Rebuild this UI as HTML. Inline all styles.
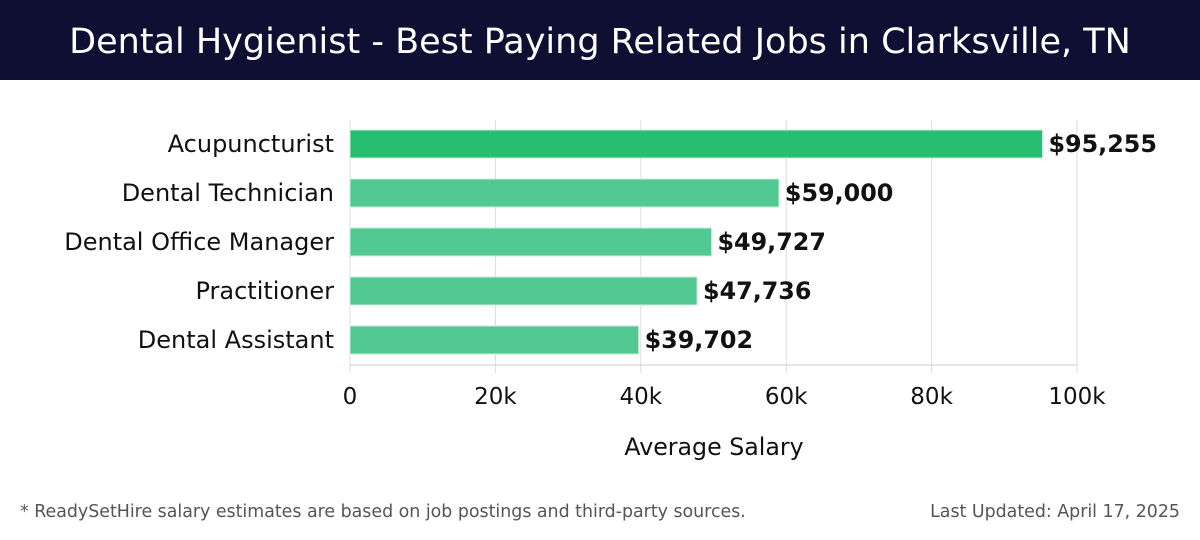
<!DOCTYPE html>
<html><head><meta charset="utf-8"><style>
body{margin:0;width:1200px;height:540px;background:#fff;font-family:"Liberation Sans","DejaVu Sans",sans-serif;overflow:hidden;position:relative}
#hdr{position:absolute;left:0;top:0;width:1200px;height:80px;background:#0f0f33;color:#fff;font-size:35px;text-align:center;line-height:84px;font-family:"DejaVu Sans","Liberation Sans",sans-serif;font-weight:normal}
.foot{position:absolute;top:502px;font-size:17.4px;color:#555;font-family:"DejaVu Sans","Liberation Sans",sans-serif}
</style></head><body>
<div id="hdr">Dental Hygienist - Best Paying Related Jobs in Clarksville, TN</div>
<svg id="chart" width="1200" height="540" style="position:absolute;left:0;top:0"></svg>
<div class="foot" style="left:20px">* ReadySetHire salary estimates are based on job postings and third-party sources.</div>
<div class="foot" style="right:20px">Last Updated: April 17, 2025</div>
<script>
const categories=["Acupuncturist","Dental Technician","Dental Office Manager","Practitioner","Dental Assistant"];
const values=[95255,59000,49727,47736,39702];
const valueLabels=["$95,255","$59,000","$49,727","$47,736","$39,702"];
const ticks=[0,20000,40000,60000,80000,100000];
const tickLabels=["0","20k","40k","60k","80k","100k"];
const NS="http://www.w3.org/2000/svg";
const svg=document.getElementById("chart");
const x0=350,x1=1077,xmax=100000;
const xs=v=>x0+(v/xmax)*(x1-x0);
const ys=i=>144+i*49;
function mk(t,a){const e=document.createElementNS(NS,t);for(const k in a)e.setAttribute(k,a[k]);svg.appendChild(e);return e;}
const ff='"DejaVu Sans","Liberation Sans",sans-serif';
ticks.forEach((t,i)=>{
 const g=mk("line",{x1:xs(t),x2:xs(t),y1:120,y2:373,stroke:"#ddd","stroke-width":1});
 
 
 const l=mk("text",{x:xs(t),y:404,"text-anchor":"middle","font-size":23,fill:"#111","font-family":ff});
 l.textContent=tickLabels[i];
 
 
});
const ax=mk("line",{x1:x0,x2:x1,y1:365,y2:365,stroke:"#ccc","stroke-width":1});


const at=mk("text",{x:714,y:455,"text-anchor":"middle","font-size":23.7,fill:"#111","font-family":ff});
at.textContent="Average Salary";


categories.forEach((c,i)=>{
 const y=ys(i);
 const b=mk("rect",{x:x0,y:y-14,width:xs(values[i])-x0,height:28,fill:i==0?"#27be72":"#52c993",stroke:"#c8eed9","stroke-width":1});
 
 
 const l=mk("text",{x:334,y:y+8,"text-anchor":"end","font-size":24,fill:"#111","font-family":ff});
 l.textContent=c;
 
 
 const v=mk("text",{x:xs(values[i])+6,y:y+8,"font-size":23.8,"font-weight":"bold",fill:"#111","font-family":ff});
 v.textContent=valueLabels[i];
 
 
});
</script>
</body></html>
